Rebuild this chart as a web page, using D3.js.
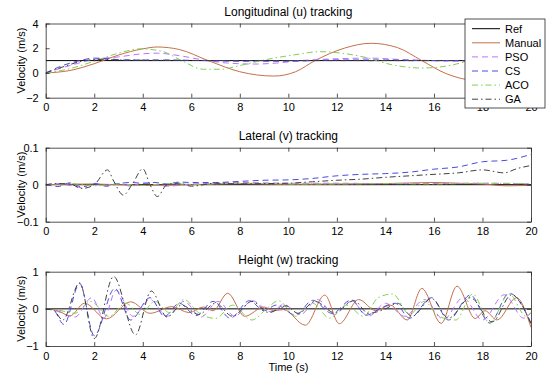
<!DOCTYPE html>
<html>
<head>
<meta charset="utf-8">
<script src="https://cdn.jsdelivr.net/npm/d3@7"></script>
<style>
  body { margin: 0; background: #fff; }
  svg { display: block; font-family: "Liberation Sans", Arial, sans-serif; }
</style>
</head>
<body>
<div id="chart"></div>
<script>
// time axis ticks shared by the three panels
const timeTicks = [0, 2, 4, 6, 8, 10, 12, 14, 16, 18, 20]
const seriesNames = ['Ref', 'Manual', 'PSO', 'CS', 'ACO', 'GA']

// longitudinal (u) tracking, [t, v]
const refU = [[0, 1], [20, 1]]
const manualU = [[0, 0], [1, 0.2], [2, 0.75], [3, 1.45], [4, 1.95], [4.6, 2.1], [5.5, 1.9], [6.7, 1.0], [8, 0.1], [9.4, -0.25], [10.3, 0.1], [11.1, 1.0], [12.3, 2.0], [13.4, 2.4], [14.5, 2.05], [15.5, 1.0], [16.5, -0.05], [17.8, -0.6], [19, -0.2], [20, 0.6]]
const psoU = [[0, 0], [1, 0.6], [2, 1.1], [3, 1.3], [4, 1.55], [4.6, 1.6], [5.5, 1.4], [6.5, 1.05], [7.5, 0.8], [8.6, 0.72], [9.5, 0.8], [10.5, 1.0], [12, 1.15], [13.4, 1.2], [14.5, 1.1], [16, 1.0], [17, 0.95], [18, 0.95], [20, 1.0]]
const csU = [[0, 0], [0.7, 0.6], [1.4, 1.0], [2.0, 1.2], [2.6, 1.15], [3.2, 1.05], [5, 1.05], [6.5, 1.0], [8, 0.95], [10, 0.95], [12, 1.05], [14, 1.05], [16, 1.0], [18, 1.0], [20, 1.0]]
const acoU = [[0, 0], [1, 0.35], [2, 0.95], [3, 1.6], [3.9, 1.95], [4.8, 1.75], [5.6, 1.0], [6.5, 0.3], [7.2, 0.3], [8.0, 0.6], [9, 1.05], [10.2, 1.45], [11.3, 1.72], [12.2, 1.6], [13.2, 1.25], [14.3, 0.65], [15.5, 0.4], [16.5, 0.55], [17.5, 1.0], [18.5, 1.4], [19.5, 1.5], [20, 1.45]]
const gaU = [[0, 0], [0.8, 0.55], [1.6, 1.0], [2.3, 1.1], [3, 1.05], [5, 1.02], [8, 1.0], [12, 1.0], [16, 1.0], [20, 1.0]]

// lateral (v) tracking
const refV = [[0, 0], [20, 0]]
const manualV = [[0, 0], [2, 0.002], [4, -0.002], [6, 0], [8, 0.003], [10, 0.001], [12, 0.002], [14, 0.003], [16, 0.006], [17, 0.004], [18, 0.002], [19, -0.003], [20, -0.002]]
const psoV = [[0, 0], [0.5, 0.003], [1, -0.002], [1.5, -0.008], [2, 0.004], [2.5, -0.003], [3, 0.003], [3.5, -0.004], [4, 0.004], [5, -0.004], [6, 0.002], [7, 0.004], [8, 0.006], [9, 0.005], [10, 0.004], [12, 0.004], [14, 0.003], [16, 0.003], [18, 0.004], [20, 0.002]]
const csV = [[0, 0.002], [0.5, -0.005], [1, 0.005], [1.5, -0.006], [2, 0.003], [2.5, -0.004], [3, 0.003], [3.5, 0.006], [4, 0.004], [4.5, 0.006], [5, 0.002], [5.5, 0.007], [6, 0.006], [7, 0.006], [8, 0.009], [9, 0.012], [10, 0.013], [11, 0.017], [12, 0.024], [13, 0.028], [14, 0.03], [15, 0.034], [16, 0.042], [17, 0.048], [18, 0.062], [19, 0.066], [20, 0.082]]
const acoV = [[0, 0], [1, 0.003], [2, -0.003], [3, 0.002], [4, -0.002], [5, 0.003], [6, 0.001], [8, 0.004], [10, 0.002], [12, 0.002], [14, 0.003], [16, 0.002], [18, 0.004], [20, 0.003]]
const gaV = [[0, 0], [0.5, 0.003], [1, 0.002], [1.5, -0.01], [2, 0], [2.55, 0.04], [2.8, 0.01], [3.2, -0.028], [3.6, 0.005], [4.0, 0.043], [4.3, 0.0], [4.6, -0.032], [5, 0], [5.5, 0.004], [6, -0.004], [7, 0.004], [8, 0.002], [9, 0.003], [10, 0.004], [11, 0.008], [12, 0.012], [13, 0.015], [14, 0.02], [15, 0.024], [16, 0.028], [17, 0.032], [18, 0.04], [18.9, 0.032], [19.4, 0.043], [20, 0.052]]

// height (w) tracking
const refW = [[0, 0], [20, 0]]
const manualW = [[0, 0], [0.5, -0.05], [1.0, -0.19], [1.6, 0.15], [2.5, -0.27], [3.5, 0.19], [4.3, -0.12], [5.2, 0.06], [5.9, -0.1], [6.5, 0.05], [6.9, -0.05], [7.5, 0.42], [8.2, -0.2], [9.0, 0.05], [9.4, -0.05], [9.8, -0.02], [10.7, -0.44], [11.5, 0.37], [12.1, -0.4], [12.9, 0.25], [13.6, -0.05], [14.2, 0.1], [14.9, -0.3], [15.5, 0.55], [16.3, -0.39], [16.95, 0.61], [17.7, -0.26], [18.1, -0.05], [18.6, -0.3], [19.4, 0.3], [20, -0.5]]
const psoW = [[0, 0], [0.4, -0.05], [1.2, -0.22], [1.9, 0.3], [2.4, -0.25], [2.9, 0.5], [3.6, -0.2], [4.3, 0.25], [5.0, -0.2], [5.7, 0.2], [6.4, -0.22], [7.1, 0.2], [7.8, -0.2], [8.5, 0.22], [9.3, -0.08], [9.8, 0.12], [10.5, -0.15], [11.2, 0.25], [11.9, -0.15], [12.6, 0.2], [13.3, -0.2], [14.0, 0.15], [14.8, -0.2], [15.6, 0.25], [16.4, -0.28], [17.2, 0.3], [18.0, -0.3], [18.9, 0.38], [19.7, -0.25], [20, -0.1]]
const csW = [[0, 0], [0.3, -0.02], [0.75, -0.42], [1.4, 0.68], [2.0, -0.72], [2.85, 0.55], [3.5, -0.3], [4.3, 0.3], [4.9, -0.2], [5.5, 0.15], [6.2, -0.18], [6.9, 0.2], [7.6, -0.25], [8.4, 0.22], [9.0, -0.05], [9.5, 0.1], [10.3, -0.17], [11.0, 0.23], [11.8, -0.12], [12.6, 0.24], [13.2, -0.17], [13.9, 0.05], [14.4, 0.15], [15.0, -0.25], [15.9, 0.3], [16.6, -0.3], [17.5, 0.37], [18.3, -0.38], [19.1, 0.42], [20, -0.38]]
const acoW = [[0, 0], [0.5, -0.03], [1.2, -0.12], [1.85, 0.2], [2.6, -0.2], [3.3, 0.15], [3.9, -0.15], [4.5, 0.2], [5.1, -0.1], [5.7, 0.25], [6.3, -0.1], [7.0, -0.26], [7.7, 0.1], [8.5, -0.3], [9.1, 0.0], [9.6, 0.22], [10.3, -0.2], [11.0, 0.15], [11.7, -0.25], [12.4, 0.1], [13.1, -0.2], [13.7, 0.3], [14.3, 0.4], [15.0, -0.15], [15.6, 0.2], [16.2, -0.2], [16.9, -0.3], [17.6, 0.4], [18.3, -0.38], [19.1, 0.4], [19.8, -0.2], [20, -0.1]]
const gaW = [[0, 0], [0.3, -0.02], [0.7, -0.3], [1.4, 0.7], [2.0, -0.8], [2.8, 0.87], [3.7, -0.7], [4.35, 0.48], [5.0, -0.22], [5.6, 0.1], [6.3, -0.15], [7.0, 0.15], [7.7, -0.2], [8.5, 0.2], [9.2, -0.1], [9.9, 0.08], [10.4, -0.12], [11.1, 0.2], [11.9, -0.1], [12.7, 0.22], [13.3, -0.12], [14.0, 0.0], [14.5, 0.15], [15.1, -0.2], [15.9, 0.28], [16.6, -0.25], [17.5, 0.3], [18.4, -0.35], [19.2, 0.38], [20, -0.4]]

// styles per series, same order as seriesNames
const styles = [
  { color: '#000000', dash: null },
  { color: '#c4704a', dash: null },
  { color: '#c070ff', dash: '6,4' },
  { color: '#4a4ae0', dash: '6,4' },
  { color: '#80d050', dash: '6,3,1.5,3' },
  { color: '#404040', dash: '6,3,1.5,3' }
]

const width = 550
const height = 379
const left = 45.7
const right = 531

const panels = [
  { title: 'Longitudinal (u) tracking', top: 23.5, bottom: 97.7, domain: [-2, 4], ticks: [-2, 0, 2, 4], series: [refU, manualU, psoU, csU, acoU, gaU] },
  { title: 'Lateral (v) tracking', top: 147.7, bottom: 221.7, domain: [-0.1, 0.1], ticks: [-0.1, 0, 0.1], series: [refV, manualV, psoV, csV, acoV, gaV] },
  { title: 'Height (w) tracking', top: 271.7, bottom: 346, domain: [-1, 1], ticks: [-1, 0, 1], series: [refW, manualW, psoW, csW, acoW, gaW] }
]

const svg = d3.select('#chart').append('svg')
    .attr('width', width)
    .attr('height', height)

const x = d3.scaleLinear().domain([0, 20]).range([left, right])
const fmt = d => d === 0 ? '0' : String(d).replace('-', '\u2212')

panels.forEach((p, pi) => {
  const y = d3.scaleLinear().domain(p.domain).range([p.bottom, p.top])
  const g = svg.append('g')

  g.append('clipPath').attr('id', `clip${pi}`)
    .append('rect')
      .attr('x', left).attr('y', p.top)
      .attr('width', right - left).attr('height', p.bottom - p.top)

  const line = d3.line()
      .x(d => x(d[0]))
      .y(d => y(d[1]))
      .curve(d3.curveMonotoneX)

  g.append('g').attr('clip-path', `url(#clip${pi})`)
    .selectAll('path')
    .data(p.series)
    .enter().append('path')
      .attr('d', d => line(d))
      .attr('fill', 'none')
      .attr('stroke', (d, i) => styles[i].color)
      .attr('stroke-dasharray', (d, i) => styles[i].dash)
      .attr('stroke-width', 1)

  // axes, MATLAB style: inward ticks on all four sides
  const bottomAxis = d3.axisBottom(x).tickValues(timeTicks).tickSizeInner(-4).tickSizeOuter(0).tickPadding(6).tickFormat(fmt)
  const topAxis = d3.axisTop(x).tickValues(timeTicks).tickSizeInner(-4).tickSizeOuter(0).tickFormat('')
  const leftAxis = d3.axisLeft(y).tickValues(p.ticks).tickSizeInner(-4).tickSizeOuter(0).tickPadding(7).tickFormat(fmt)
  const rightAxis = d3.axisRight(y).tickValues(p.ticks).tickSizeInner(-4).tickSizeOuter(0).tickFormat('')

  g.append('g').attr('transform', `translate(0,${p.bottom})`).call(bottomAxis)
  g.append('g').attr('transform', `translate(0,${p.top})`).call(topAxis)
  g.append('g').attr('transform', `translate(${left},0)`).call(leftAxis)
  g.append('g').attr('transform', `translate(${right},0)`).call(rightAxis)

  g.selectAll('.domain').attr('stroke', '#262626').attr('stroke-width', 0.8)
  g.selectAll('.tick line').attr('stroke', '#262626').attr('stroke-width', 0.8)
  g.selectAll('.tick text').attr('font-size', 11).attr('fill', '#000')
    .attr('font-family', '"Liberation Sans", Arial, sans-serif')

  g.append('text')
      .attr('x', (left + right) / 2)
      .attr('y', p.top - 8)
      .attr('text-anchor', 'middle')
      .attr('font-size', 12)
      .text(p.title)

  g.append('text')
      .attr('transform', `translate(25,${(p.top + p.bottom) / 2}) rotate(-90)`)
      .attr('text-anchor', 'middle')
      .attr('font-size', 11)
      .text('Velocity (m/s)')
})

svg.append('text')
    .attr('x', (left + right) / 2)
    .attr('y', 371)
    .attr('text-anchor', 'middle')
    .attr('font-size', 11)
    .text('Time (s)')

// legend over the top panel
const legend = svg.append('g').attr('transform', 'translate(465,19)')
legend.append('rect')
    .attr('width', 80).attr('height', 89)
    .attr('fill', '#fff')
    .attr('stroke', '#262626')
    .attr('stroke-width', 0.8)

const rows = legend.selectAll('g.row')
    .data(seriesNames)
    .enter().append('g')
      .attr('class', 'row')
      .attr('transform', (d, i) => `translate(0,${9.7 + i * 14.1})`)

rows.append('line')
    .attr('x1', 7).attr('x2', 35)
    .attr('stroke', (d, i) => styles[i].color)
    .attr('stroke-dasharray', (d, i) => styles[i].dash)
    .attr('stroke-width', 1)

rows.append('text')
    .attr('x', 40).attr('dy', '0.35em')
    .attr('font-size', 11)
    .text(d => d)
</script>
</body>
</html>
